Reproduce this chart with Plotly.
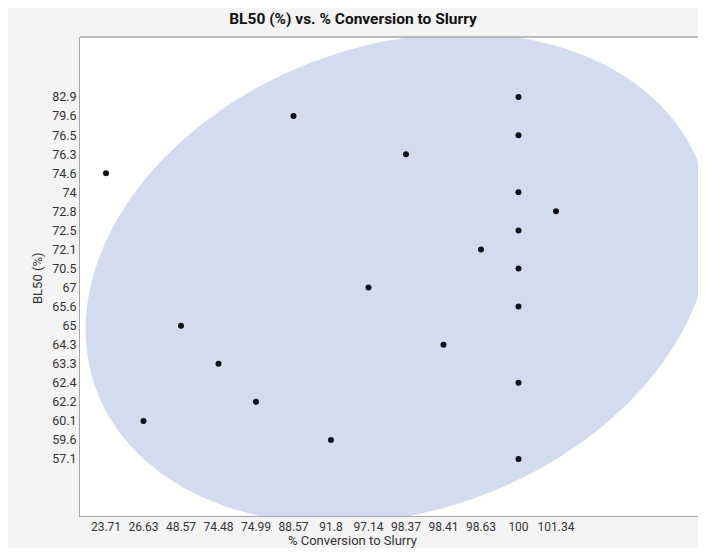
import numpy as np
import plotly.graph_objects as go

# ---- data ----
x_categories = ["23.71", "26.63", "48.57", "74.48", "74.99", "88.57", "91.8",
                "97.14", "98.37", "98.41", "98.63", "100", "101.34"]
y_categories = ["57.1", "59.6", "60.1", "62.2", "62.4", "63.3", "64.3", "65",
                "65.6", "67", "70.5", "72.1", "72.5", "72.8", "74", "74.6",
                "76.3", "76.5", "79.6", "82.9"]
pct_conversion = ["23.71", "88.57", "98.37", "100", "100", "100", "101.34",
                  "100", "98.63", "100", "97.14", "100", "48.57", "98.41",
                  "74.48", "100", "74.99", "26.63", "91.8", "100"]
bl50 = ["74.6", "79.6", "76.3", "82.9", "76.5", "74", "72.8", "72.5", "72.1",
        "70.5", "67", "65.6", "65", "64.3", "63.3", "62.4", "62.2", "60.1",
        "59.6", "57.1"]

# density ellipse (in ordinal index units): centre and quadratic form
ellipse_center = (7.79, 9.48)
ellipse_form = (0.01505, -0.00407, 0.00632)  # a*dx^2 + b*dx*dy + c*dy^2 = 1

# ---- derived positions on ordinal axes ----
xi = [x_categories.index(v) for v in pct_conversion]
yi = [y_categories.index(v) for v in bl50]

t = np.linspace(0, 2 * np.pi, 400)
a, b, c = ellipse_form
q = a * np.cos(t) ** 2 + b * np.cos(t) * np.sin(t) + c * np.sin(t) ** 2
r = 1 / np.sqrt(q)
ex = ellipse_center[0] + r * np.cos(t)
ey = ellipse_center[1] + r * np.sin(t)

fig = go.Figure()
fig.add_trace(go.Scatter(x=ex, y=ey, mode="lines", fill="toself",
                         fillcolor="#d3dcef", line=dict(width=0),
                         hoverinfo="skip", showlegend=False))
fig.add_trace(go.Scatter(x=xi, y=yi, mode="markers",
                         marker=dict(size=6, color="#111118"),
                         showlegend=False))

W, H = 690, 540
PW, PH = 618, 479
fig.update_layout(
    width=W, height=H,
    margin=dict(l=72, r=0, t=29, b=32, autoexpand=False),
    paper_bgcolor="#f4f4f4", plot_bgcolor="white",
    font=dict(family="Roboto, Noto Sans, sans-serif", color="#333333"),
    title=dict(text="<b>BL50 (%) vs. % Conversion to Slurry</b>",
               x=345 / W, xanchor="center", y=1 - 11 / H, yanchor="middle",
               font=dict(size=15.5, color="#111111")),
    xaxis=dict(range=[-0.693, 15.787], tickmode="array",
               tickvals=list(range(len(x_categories))), ticktext=x_categories,
               showgrid=False, zeroline=False, showline=True, mirror=False,
               linecolor="#a6a6a6", linewidth=1, ticks="",
               tickfont=dict(size=12, family="Liberation Sans Narrow, Roboto, sans-serif",
                             color="#333333")),
    yaxis=dict(range=[-2.992, 22.152], tickmode="array",
               tickvals=list(range(len(y_categories))), ticktext=y_categories,
               showgrid=False, zeroline=False, showline=True, mirror=False,
               linecolor="#a6a6a6", linewidth=1, ticks="",
               tickfont=dict(size=12.5, color="#333333")),
    shapes=[dict(type="line", xref="paper", yref="paper", x0=0, x1=1.02,
                 y0=1, y1=1, line=dict(color="#a6a6a6", width=1.5),
                 layer="above")],
    annotations=[
        dict(text="% Conversion to Slurry", xref="paper", yref="paper",
             x=(344 - 72) / PW, y=(508 - 532.5) / PH, xanchor="center",
             yanchor="middle", showarrow=False,
             font=dict(size=13, color="#333333")),
        dict(text="BL50 (%)", xref="paper", yref="paper",
             x=(29 - 72) / PW, y=(508 - 270) / PH, xanchor="center",
             yanchor="middle", showarrow=False, textangle=-90,
             font=dict(size=13, color="#333333")),
    ],
)

fig.write_html("out.html")
